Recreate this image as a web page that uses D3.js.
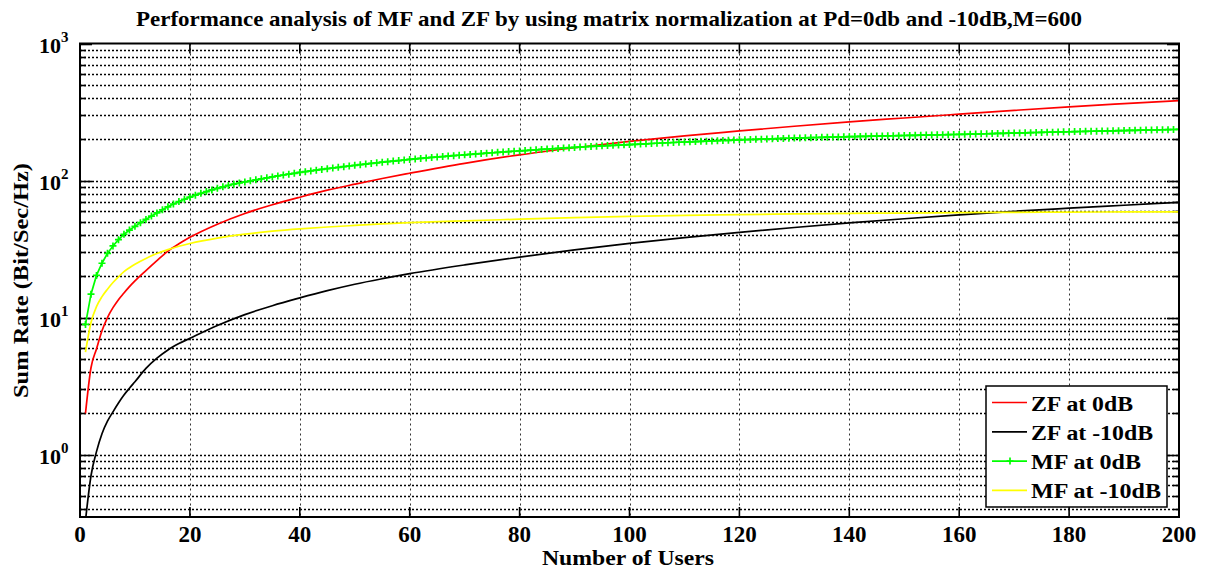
<!DOCTYPE html>
<html>
<head>
<meta charset="utf-8">
<script src="https://cdn.jsdelivr.net/npm/d3@7"></script>
<style>
body { margin: 0; background: #fff; }
text { font-family: "Liberation Serif", "Times New Roman", serif; font-weight: bold; }
</style>
</head>
<body>
<svg id="chart" width="1212" height="571"></svg>
<script>
// values
var title = "Performance analysis of MF and ZF by using matrix normalization at Pd=0db and -10dB,M=600";
var xTicks = [0, 20, 40, 60, 80, 100, 120, 140, 160, 180, 200];
var yDecades = [0, 1, 2, 3];

// MF at 0dB has a marker at every user count 1..200
var mf0 = [
  8.9, 14.8, 20.3, 24.9, 29.4, 33.3, 37.0, 40.5, 43.5, 46.3,
  49.2, 52.0, 55.0, 58.0, 61.2, 64.3, 67.4, 70.3, 73.0, 75.6,
  78.1, 80.6, 83.0, 85.4, 87.7, 89.9, 92.0, 94.0, 95.9, 97.7,
  99.5, 101.2, 102.9, 104.6, 106.3, 108.0, 109.7, 111.3, 112.9, 114.5,
  116.0, 117.5, 119.0, 120.5, 122.0, 123.4, 124.8, 126.2, 127.6, 129.0,
  130.4, 131.8, 133.2, 134.6, 136.0, 137.3, 138.6, 139.9, 141.2, 142.5,
  143.7, 144.9, 146.1, 147.3, 148.5, 149.6, 150.7, 151.8, 152.9, 154.0,
  155.1, 156.2, 157.3, 158.4, 159.5, 160.5, 161.5, 162.5, 163.5, 164.5,
  165.5, 166.5, 167.5, 168.5, 169.5, 170.5, 171.5, 172.5, 173.5, 174.5,
  175.4, 176.3, 177.2, 178.1, 179.0, 179.8, 180.6, 181.4, 182.2, 183.0,
  183.8, 184.6, 185.4, 186.2, 187.0, 187.8, 188.6, 189.4, 190.2, 191.0,
  191.7, 192.4, 193.1, 193.8, 194.5, 195.2, 195.9, 196.6, 197.3, 198.0,
  198.6, 199.2, 199.8, 200.4, 201.0, 201.6, 202.2, 202.8, 203.4, 204.0,
  204.5, 205.0, 205.5, 206.0, 206.5, 207.0, 207.5, 208.0, 208.5, 209.0,
  209.4, 209.8, 210.2, 210.6, 211.0, 211.4, 211.8, 212.2, 212.6, 213.0,
  213.4, 213.8, 214.2, 214.6, 215.0, 215.4, 215.8, 216.2, 216.6, 217.0,
  217.5, 218.0, 218.5, 219.0, 219.5, 220.0, 220.5, 221.0, 221.5, 222.0,
  222.5, 223.0, 223.5, 224.0, 224.5, 225.0, 225.5, 226.0, 226.5, 227.0,
  227.5, 227.9, 228.4, 228.8, 229.3, 229.7, 230.2, 230.6, 231.1, 231.5,
  232.0, 232.4, 232.9, 233.3, 233.8, 234.2, 234.7, 235.1, 235.6, 236.0
];

// the other three curves, read at these user counts
var sampleUsers = [1, 2, 3, 4, 5, 6, 7, 8, 9, 10, 12, 14, 16, 18, 20, 25, 30, 35, 40, 45, 50, 55, 60,
  70, 80, 90, 100, 110, 120, 130, 140, 150, 160, 170, 180, 190, 200];
var zf0 = [2.0, 4.3, 5.9, 8.0, 10.0, 11.8, 13.5, 15.1, 16.8, 18.5, 22.0, 26.0, 30.5, 34.5, 38.5, 48.0, 57.5, 66.5, 75.5, 85.0, 94.0, 103.5, 113.0,
  133.5, 154.0, 173.5, 193.0, 212.0, 230.0, 249.0, 268.0, 286.0, 305.0, 325.0, 345.0, 364.0, 383.0];
var zf10 = [0.33, 0.70, 1.05, 1.42, 1.75, 2.05, 2.38, 2.72, 3.05, 3.4, 4.25, 5.05, 5.8, 6.45, 7.05, 8.75, 10.5, 12.2, 13.9, 15.7, 17.5, 19.2, 20.9,
  24.2, 27.6, 31.2, 34.8, 38.3, 41.8, 45.4, 49.0, 52.6, 56.2, 59.6, 62.8, 66.0, 69.3];
var mf10 = [5.6, 9.2, 12.0, 14.2, 16.1, 18.0, 19.8, 21.6, 23.1, 24.5, 27.0, 29.3, 31.3, 33.1, 34.7, 38.0, 40.6, 42.7, 44.4, 45.8, 47.0, 48.2, 49.2,
  50.8, 52.2, 53.6, 54.8, 55.7, 56.4, 57.0, 57.5, 57.9, 58.3, 58.6, 58.8, 59.0, 59.1];

var legendNames = ["ZF at 0dB", "ZF at -10dB", "MF at 0dB", "MF at -10dB"];
var legendWidths = [102, 122, 110, 130];
var lineColors = ["#ff0000", "#000000", "#00ff00", "#ffff00"];

var margin = {top: 43.5, right: 33, bottom: 54, left: 80},
    width = 1212, height = 571;

var svg = d3.select("#chart");

var x = d3.scaleLinear()
    .domain([0, 200])
    .range([margin.left, width - margin.right]);

var y = d3.scaleLog()
    .domain([0.35, 1000])
    .range([height - margin.bottom, margin.top]);

var x0 = x.range()[0], x1 = x.range()[1],
    yb = y.range()[0], yt = y.range()[1];

svg.append("defs").append("clipPath").attr("id", "plot")
    .append("rect").attr("x", x0).attr("y", yt).attr("width", x1 - x0).attr("height", yb - yt);

// grid
var yGrid = y.ticks().filter(d => d > 0.35 && d < 1000);
svg.append("g").selectAll("line")
    .data(yGrid)
    .join("line")
    .attr("x1", x0).attr("x2", x1)
    .attr("y1", d => Math.round(y(d)) + 0.5).attr("y2", d => Math.round(y(d)) + 0.5)
    .attr("stroke", "#000")
    .attr("stroke-width", 1.4)
    .attr("stroke-dasharray", "2,2");

svg.append("g").selectAll("line")
    .data(xTicks.slice(1, -1))
    .join("line")
    .attr("x1", d => Math.round(x(d)) + 0.5).attr("x2", d => Math.round(x(d)) + 0.5)
    .attr("y1", yt).attr("y2", yb)
    .attr("stroke", "#333")
    .attr("stroke-width", 1)
    .attr("stroke-dasharray", "2,3");

// ticks inside the box, both sides
var isMajor = d => Math.abs(Math.log10(d) - Math.round(Math.log10(d))) < 1e-9;
var yTickAll = y.ticks().filter(d => d >= 0.35 && d <= 1000);
var tg = svg.append("g").attr("stroke", "#000").attr("stroke-width", 1.6);
tg.selectAll(".yl").data(yTickAll).join("line")
    .attr("x1", x0).attr("x2", d => x0 + (isMajor(d) ? 12 : 6))
    .attr("y1", d => Math.round(y(d)) + 0.5).attr("y2", d => Math.round(y(d)) + 0.5);
tg.selectAll(".yr").data(yTickAll).join("line")
    .attr("x1", x1).attr("x2", d => x1 - (isMajor(d) ? 12 : 6))
    .attr("y1", d => Math.round(y(d)) + 0.5).attr("y2", d => Math.round(y(d)) + 0.5);
tg.selectAll(".xb").data(xTicks).join("line")
    .attr("x1", d => x(d)).attr("x2", d => x(d))
    .attr("y1", yb).attr("y2", yb - 10);
tg.selectAll(".xt").data(xTicks).join("line")
    .attr("x1", d => x(d)).attr("x2", d => x(d))
    .attr("y1", yt).attr("y2", yt + 10);

// curves
var plot = svg.append("g").attr("clip-path", "url(#plot)");
var smooth = d3.line()
    .x((d, i) => x(sampleUsers[i]))
    .y(d => y(d))
    .curve(d3.curveMonotoneX);
var straight = d3.line()
    .x((d, i) => x(i + 1))
    .y(d => y(d));

plot.append("path").attr("d", smooth(zf0)).attr("fill", "none")
    .attr("stroke", lineColors[0]).attr("stroke-width", 1.7);
plot.append("path").attr("d", smooth(zf10)).attr("fill", "none")
    .attr("stroke", lineColors[1]).attr("stroke-width", 1.7);
plot.append("path").attr("d", straight(mf0)).attr("fill", "none")
    .attr("stroke", lineColors[2]).attr("stroke-width", 1.7);

plot.append("g").selectAll("path")
    .data(mf0)
    .join("path")
    .attr("d", "M-3.5,0H3.5M0,-3.5V3.5")
    .attr("transform", (d, i) => `translate(${x(i + 1)},${y(d)})`)
    .attr("stroke", lineColors[2])
    .attr("stroke-width", 1.7)
    .attr("fill", "none");

plot.append("path").attr("d", smooth(mf10)).attr("fill", "none")
    .attr("stroke", lineColors[3]).attr("stroke-width", 1.7);

// box
svg.append("rect")
    .attr("x", x0).attr("y", yt).attr("width", x1 - x0).attr("height", yb - yt)
    .attr("fill", "none").attr("stroke", "#000").attr("stroke-width", 2);

// tick labels
svg.append("g").selectAll("text")
    .data(xTicks)
    .join("text")
    .attr("x", d => x(d))
    .attr("y", yb + 25)
    .attr("text-anchor", "middle")
    .attr("font-size", 23)
    .text(d => d);

var yl = svg.append("g").selectAll("text")
    .data(yDecades)
    .join("text")
    .attr("x", 39)
    .attr("y", d => y(Math.pow(10, d)) + 9)
    .attr("font-size", 22);
yl.append("tspan").text("10");
yl.append("tspan").attr("dy", -11).attr("font-size", 15).text(d => d);

// titles
svg.append("text")
    .attr("x", 136).attr("y", 26)
    .attr("font-size", 21)
    .attr("textLength", 946)
    .attr("lengthAdjust", "spacingAndGlyphs")
    .text(title);

svg.append("text")
    .attr("x", 542).attr("y", 565)
    .attr("font-size", 21)
    .attr("textLength", 172)
    .attr("lengthAdjust", "spacingAndGlyphs")
    .text("Number of Users");

svg.append("text")
    .attr("transform", "translate(28,398) rotate(-90)")
    .attr("font-size", 21)
    .attr("textLength", 235)
    .attr("lengthAdjust", "spacingAndGlyphs")
    .text("Sum Rate (Bit/Sec/Hz)");

// legend
var lg = svg.append("g").attr("transform", "translate(986,386)");
lg.append("rect").attr("width", 181).attr("height", 121)
    .attr("fill", "#fff").attr("stroke", "#000").attr("stroke-width", 1.5);
var items = lg.selectAll("g.item")
    .data(legendNames)
    .join("g")
    .attr("transform", (d, i) => `translate(0,${16.5 + i * 29.3})`);
items.append("line")
    .attr("x1", 6).attr("x2", 41)
    .attr("stroke", (d, i) => lineColors[i]).attr("stroke-width", 1.7);
items.filter((d, i) => i === 2).append("path")
    .attr("d", "M-3.5,0H3.5M0,-3.5V3.5")
    .attr("transform", "translate(24,0)")
    .attr("stroke", lineColors[2]).attr("stroke-width", 1.7);
items.append("text")
    .attr("x", 45).attr("y", 8)
    .attr("font-size", 20)
    .attr("textLength", (d, i) => legendWidths[i])
    .attr("lengthAdjust", "spacingAndGlyphs")
    .text(d => d);
</script>
</body>
</html>
